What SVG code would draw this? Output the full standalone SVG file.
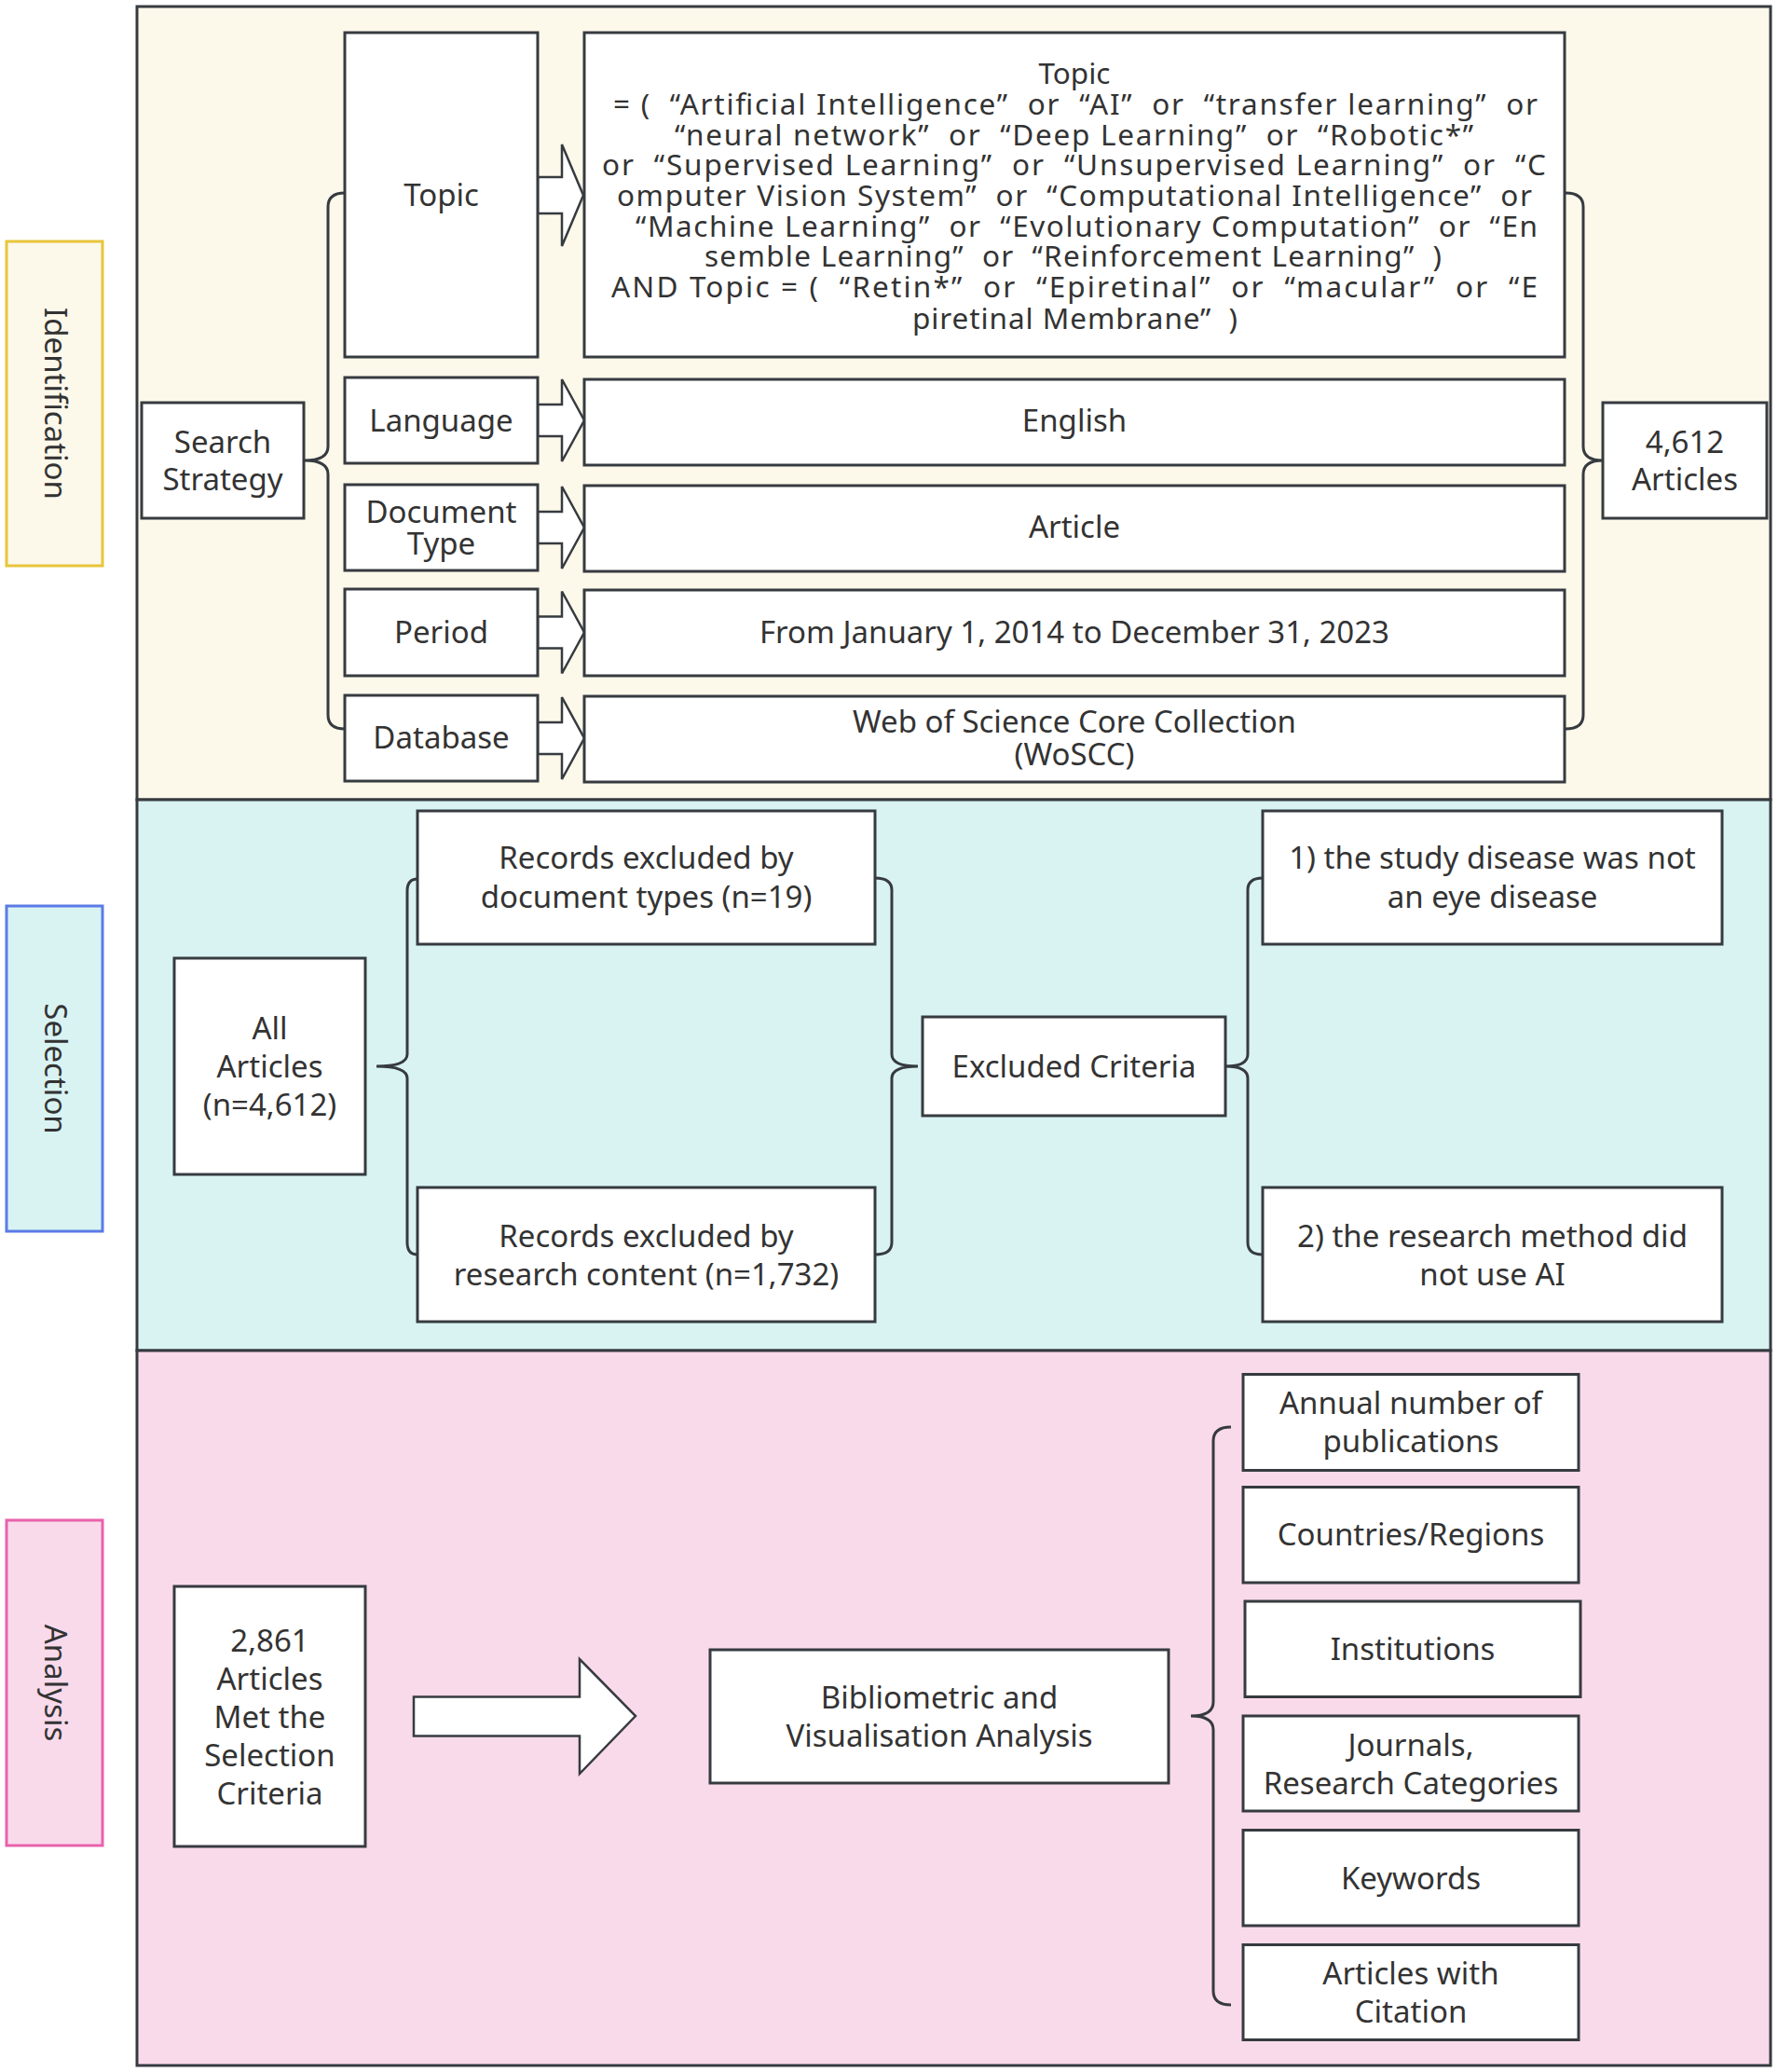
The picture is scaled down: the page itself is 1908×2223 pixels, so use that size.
<svg xmlns="http://www.w3.org/2000/svg" width="1908" height="2223" viewBox="0 0 1908 2223">
<style>
.box{fill:#ffffff;stroke:#363b40;stroke-width:3}
.arr{fill:#ffffff;stroke:#363b40;stroke-width:2.5;stroke-linejoin:miter}
.br{fill:none;stroke:#363b40;stroke-width:3}
.t{font-family:"Noto Sans","Open Sans","DejaVu Sans",sans-serif;font-size:33px;fill:#333333;text-anchor:middle}
.q{font-family:"Noto Sans","Open Sans","DejaVu Sans",sans-serif;font-size:31.5px;fill:#333333;white-space:pre}
</style>
<rect width="1908" height="2223" fill="#ffffff"/>
<g id="panels">
<rect x="147" y="7" width="1753" height="851" fill="#FCF8EA" stroke="#363b40" stroke-width="3"/>
<rect x="147" y="858" width="1753" height="591" fill="#D9F3F3" stroke="#363b40" stroke-width="3"/>
<rect x="147" y="1449" width="1753" height="767" fill="#F9DAEB" stroke="#363b40" stroke-width="3"/>
</g>
<g id="stage-identification">
<rect x="7" y="259" width="103" height="348" fill="#FCF8EA" stroke="#E8C53A" stroke-width="3"/>
<text class="t" transform="translate(58.5,433) rotate(90)" x="0" y="11">Identification</text>
</g>
<g id="stage-selection">
<rect x="7" y="972" width="103" height="349" fill="#D9F3F3" stroke="#5B7BE6" stroke-width="3"/>
<text class="t" transform="translate(58.5,1146.5) rotate(90)" x="0" y="11">Selection</text>
</g>
<g id="stage-analysis">
<rect x="7" y="1631" width="103" height="349" fill="#F9DAEB" stroke="#E862AC" stroke-width="3"/>
<text class="t" transform="translate(58.5,1805.5) rotate(90)" x="0" y="11">Analysis</text>
</g>

<g id="connectors">
<path class="br" d="M370,207 Q352,207 352,222 L352,479 Q352,494 327,494 Q352,494 352,509 L352,767 Q352,782 370,782"/>
<path class="br" d="M1680,207 Q1699,207 1699,222 L1699,479 Q1699,494 1720,494 Q1699,494 1699,509 L1699,767 Q1699,782 1680,782"/>
<polygon class="arr" points="577,190 603,190 603,155 626,209.5 603,264 603,229 577,229"/>
<polygon class="arr" points="577,434 603,434 603,407 627,451 603,495 603,468 577,468"/>
<polygon class="arr" points="577,549 603,549 603,522 627,566 603,610 603,583 577,583"/>
<polygon class="arr" points="577,661.5 603,661.5 603,634.5 627,678.5 603,722.5 603,695.5 577,695.5"/>
<polygon class="arr" points="577,775 603,775 603,748 627,792 603,836 603,809 577,809"/>
<path class="br" d="M448,943 Q437,943 437,956 L437,1131 Q437,1144 404,1144 Q437,1144 437,1157 L437,1333 Q437,1346 448,1346"/>
<path class="br" d="M939,942 Q957,942 957,955 L957,1131 Q957,1144 985,1144 Q957,1144 957,1157 L957,1333 Q957,1346 939,1346"/>
<path class="br" d="M1355,942 Q1339,942 1339,955 L1339,1131 Q1339,1144 1315,1144 Q1339,1144 1339,1157 L1339,1333 Q1339,1346 1355,1346"/>
<polygon class="arr" points="444,1820.5 622,1820.5 622,1780 682,1841 622,1903 622,1862.5 444,1862.5"/>
<path class="br" d="M1321,1531 Q1302,1531 1302,1546 L1302,1826 Q1302,1841 1278,1841 Q1302,1841 1302,1856 L1302,2136 Q1302,2151 1321,2151"/>
</g>

<g id="node-topic-label">
<rect class="box" x="370" y="35" width="207" height="348"/>
<text class="t" x="473.5" y="221">Topic</text>
</g>
<g id="node-topic-query">
<rect class="box" x="627" y="35" width="1052" height="348"/>
<text class="t" x="1153" y="90" style="font-size:31.5px">Topic</text>
<text class="q" xml:space="preserve" x="658" y="123" textLength="992" lengthAdjust="spacing">= (  “Artificial Intelligence”  or  “AI”  or  “transfer learning”  or</text>
<text class="q" xml:space="preserve" x="724" y="155.5" textLength="857" lengthAdjust="spacing">“neural network”  or  “Deep Learning”  or  “Robotic*”</text>
<text class="q" xml:space="preserve" x="646" y="188" textLength="1013" lengthAdjust="spacing">or  “Supervised Learning”  or  “Unsupervised Learning”  or  “C</text>
<text class="q" xml:space="preserve" x="662" y="220.5" textLength="982" lengthAdjust="spacing">omputer Vision System”  or  “Computational Intelligence”  or</text>
<text class="q" xml:space="preserve" x="682" y="253.5" textLength="968" lengthAdjust="spacing">“Machine Learning”  or  “Evolutionary Computation”  or  “En</text>
<text class="q" xml:space="preserve" x="756" y="286" textLength="791" lengthAdjust="spacing">semble Learning”  or  “Reinforcement Learning”  )</text>
<text class="q" xml:space="preserve" x="656" y="318.5" textLength="994" lengthAdjust="spacing">AND Topic = (  “Retin*”  or  “Epiretinal”  or  “macular”  or  “E</text>
<text class="q" xml:space="preserve" x="979" y="352.5" textLength="349" lengthAdjust="spacing">piretinal Membrane”  )</text>
</g>
<g id="node-search-strategy">
<rect class="box" x="152" y="432" width="174" height="124"/>
<text class="t" x="239" y="486">Search</text>
<text class="t" x="239" y="525.5">Strategy</text>
</g>
<g id="node-articles-4612">
<rect class="box" x="1720" y="432" width="176" height="124"/>
<text class="t" x="1808" y="486">4,612</text>
<text class="t" x="1808" y="525.5">Articles</text>
</g>
<g id="node-language">
<rect class="box" x="370" y="405" width="207" height="92"/>
<text class="t" x="473.5" y="463">Language</text>
</g>
<g id="node-english">
<rect class="box" x="627" y="407" width="1052" height="92"/>
<text class="t" x="1153" y="463">English</text>
</g>
<g id="node-document-type">
<rect class="box" x="370" y="520" width="207" height="92"/>
<text class="t" x="473.5" y="561">Document</text>
<text class="t" x="473.5" y="595">Type</text>
</g>
<g id="node-article">
<rect class="box" x="627" y="521" width="1052" height="92"/>
<text class="t" x="1153" y="577">Article</text>
</g>
<g id="node-period">
<rect class="box" x="370" y="632" width="207" height="93"/>
<text class="t" x="473.5" y="689.5">Period</text>
</g>
<g id="node-period-range">
<rect class="box" x="627" y="633" width="1052" height="92"/>
<text class="t" x="1153" y="689.5">From January 1, 2014 to December 31, 2023</text>
</g>
<g id="node-database">
<rect class="box" x="370" y="746" width="207" height="92"/>
<text class="t" x="473.5" y="803">Database</text>
</g>
<g id="node-woscc">
<rect class="box" x="627" y="747" width="1052" height="92"/>
<text class="t" x="1153" y="786">Web of Science Core Collection</text>
<text class="t" x="1153" y="820.5">(WoSCC)</text>
</g>

<g id="node-all-articles">
<rect class="box" x="187" y="1028" width="205" height="232"/>
<text class="t" x="289.5" y="1115">All</text>
<text class="t" x="289.5" y="1156">Articles</text>
<text class="t" x="289.5" y="1197">(n=4,612)</text>
</g>
<g id="node-excluded-doc-types">
<rect class="box" x="448" y="870" width="491" height="143"/>
<text class="t" x="693.5" y="932">Records excluded by</text>
<text class="t" x="693.5" y="973.5">document types (n=19)</text>
</g>
<g id="node-excluded-content">
<rect class="box" x="448" y="1274" width="491" height="144"/>
<text class="t" x="693.5" y="1338">Records excluded by</text>
<text class="t" x="693.5" y="1379">research content (n=1,732)</text>
</g>
<g id="node-excluded-criteria">
<rect class="box" x="990" y="1091" width="325" height="106"/>
<text class="t" x="1152.5" y="1156">Excluded Criteria</text>
</g>
<g id="node-criterion-1">
<rect class="box" x="1355" y="870" width="493" height="143"/>
<text class="t" x="1601.5" y="932">1) the study disease was not</text>
<text class="t" x="1601.5" y="973.5">an eye disease</text>
</g>
<g id="node-criterion-2">
<rect class="box" x="1355" y="1274" width="493" height="144"/>
<text class="t" x="1601.5" y="1338">2) the research method did</text>
<text class="t" x="1601.5" y="1379">not use AI</text>
</g>

<g id="node-2861">
<rect class="box" x="187" y="1702" width="205" height="279"/>
<text class="t" x="289.5" y="1771.5">2,861</text>
<text class="t" x="289.5" y="1812.5">Articles</text>
<text class="t" x="289.5" y="1853.5">Met the</text>
<text class="t" x="289.5" y="1894.5">Selection</text>
<text class="t" x="289.5" y="1936">Criteria</text>
</g>
<g id="node-bibliometric">
<rect class="box" x="762" y="1770" width="492" height="143"/>
<text class="t" x="1008" y="1832.5">Bibliometric and</text>
<text class="t" x="1008" y="1873.5">Visualisation Analysis</text>
</g>
<g id="node-annual">
<rect class="box" x="1334" y="1474.5" width="360" height="103"/>
<text class="t" x="1514" y="1516.5">Annual number of</text>
<text class="t" x="1514" y="1557.5">publications</text>
</g>
<g id="node-countries">
<rect class="box" x="1334" y="1595.5" width="360" height="102.5"/>
<text class="t" x="1514" y="1658">Countries/Regions</text>
</g>
<g id="node-institutions">
<rect class="box" x="1336" y="1718" width="360" height="102.5"/>
<text class="t" x="1516" y="1781">Institutions</text>
</g>
<g id="node-journals">
<rect class="box" x="1334" y="1841" width="360" height="102"/>
<text class="t" x="1514" y="1883.5">Journals,</text>
<text class="t" x="1514" y="1924.5">Research Categories</text>
</g>
<g id="node-keywords">
<rect class="box" x="1334" y="1963.5" width="360" height="102.5"/>
<text class="t" x="1514" y="2026.5">Keywords</text>
</g>
<g id="node-citation">
<rect class="box" x="1334" y="2086.5" width="360" height="102"/>
<text class="t" x="1514" y="2128.5">Articles with</text>
<text class="t" x="1514" y="2169.5">Citation</text>
</g>
</svg>
